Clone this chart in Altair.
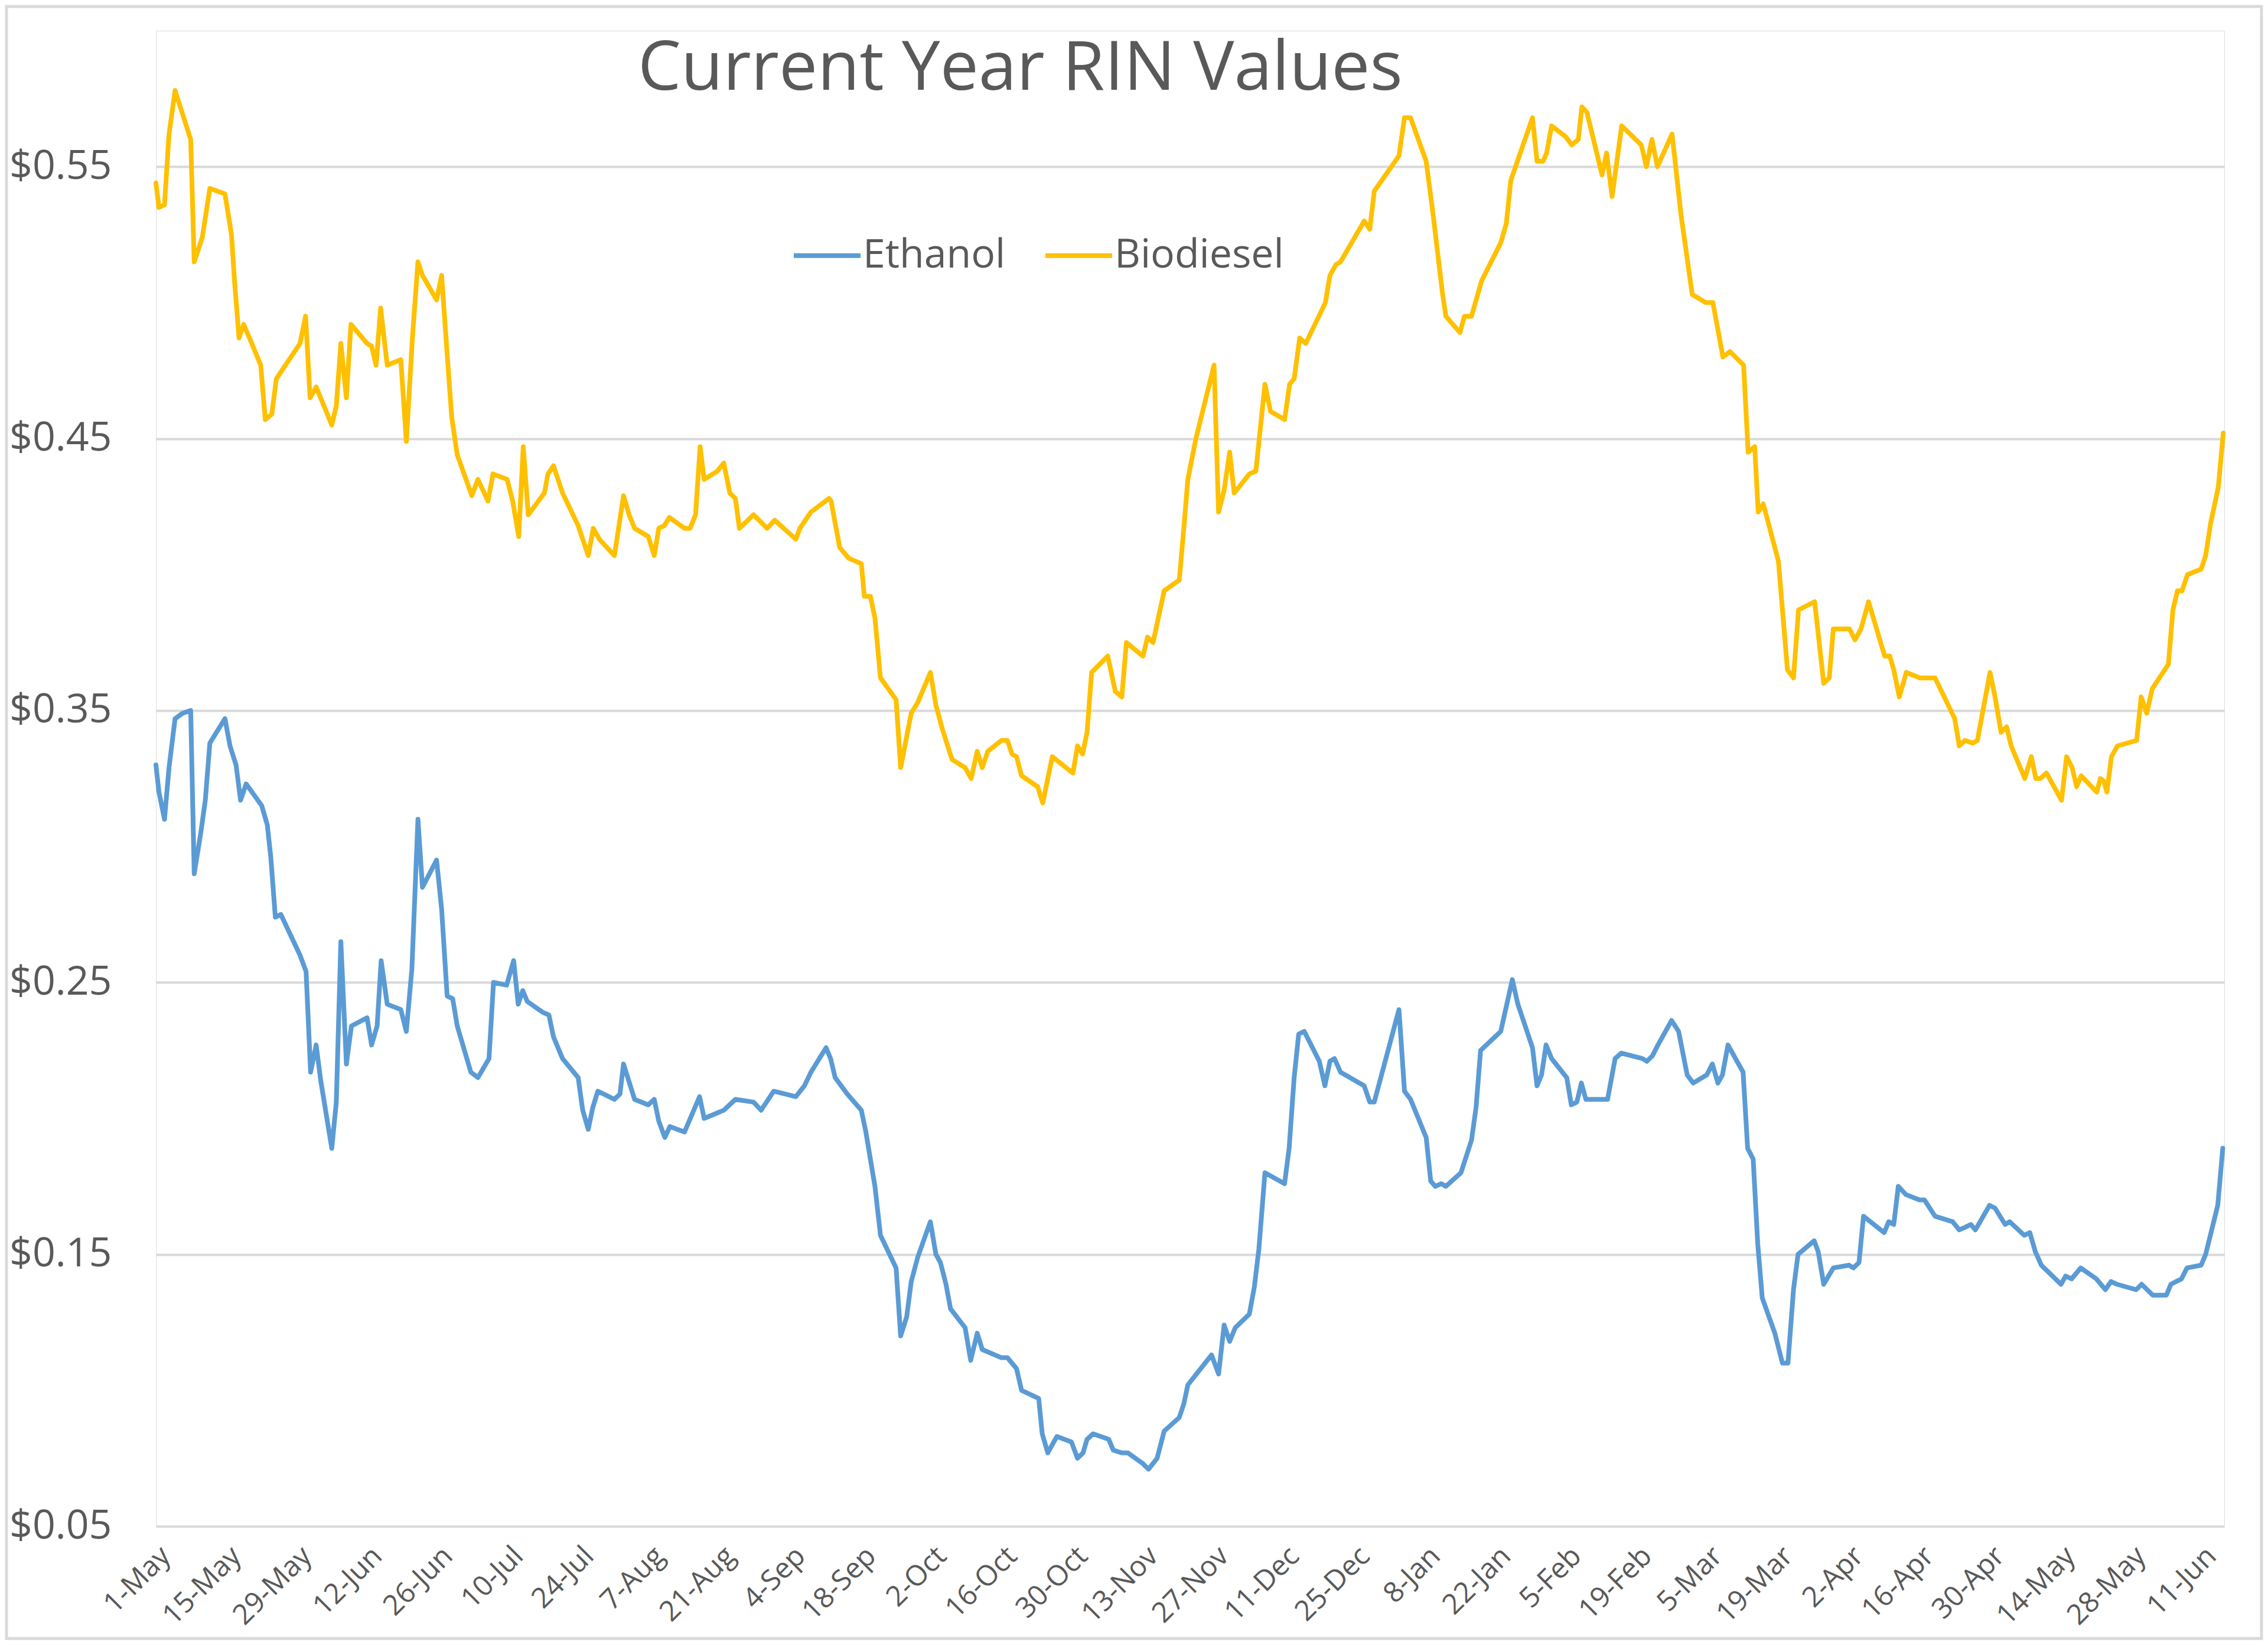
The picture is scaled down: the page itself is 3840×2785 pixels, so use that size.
import altair as alt
import pandas as pd

# ---- data (day offset from 1-May-2017, value in $) ----
START = "2017-05-01"
title_text = "Current Year RIN Values"
series_names = ["Ethanol", "Biodiesel"]
series_colors = ["#5B9BD5", "#FFC000"]

bio_day = [0.0, 0.6, 1.7, 2.6, 3.8, 6.9, 7.6, 9.2, 10.7, 13.7, 15.0, 15.6, 16.5, 17.4, 18.8,
           20.8, 21.7, 23.0, 23.9, 28.6, 29.7, 30.6, 31.8, 34.9, 35.8, 36.7, 37.8, 38.7, 41.9,
           42.8, 43.7, 44.6, 45.9, 48.6, 49.7, 50.9, 52.0, 52.9, 55.7, 56.7, 57.8, 58.7, 59.8,
           62.7, 63.9, 65.9, 66.9, 69.7, 70.8, 72.0, 72.9, 73.9, 77.1, 77.8, 78.9, 80.7, 83.8,
           85.8, 86.8, 88.0, 91.0, 92.8, 93.9, 95.0, 97.7, 98.9, 99.8, 100.9, 101.9, 104.9,
           106.0, 107.1, 108.0, 108.8, 111.4, 112.7, 113.9, 115.0, 115.8, 118.6, 121.3, 122.8,
           127.0, 127.8, 130.0, 133.6, 134.0, 135.7, 137.5, 140.0, 140.6, 141.8, 142.7, 143.8,
           146.9, 147.8, 149.9, 151.2, 153.7, 154.8, 156.1, 158.0, 160.6, 161.8, 163.0, 164.0,
           165.1, 167.8, 169.0, 169.9, 170.8, 171.8, 175.0, 176.0, 177.9, 182.0, 182.9, 183.9,
           184.8, 185.7, 188.9, 190.4, 191.7, 192.6, 195.9, 196.8, 197.9, 198.7, 200.1, 203.1,
           204.0, 204.8, 206.4, 210.0, 210.9, 212.0, 213.1, 214.0, 217.0, 218.3, 220.1, 221.2,
           224.0, 225.0, 225.9, 227.0, 228.2, 232.1, 233.0, 234.2, 235.1, 239.8, 240.9, 241.8,
           246.7, 247.8, 249.0, 252.1, 253.5, 255.3, 256.0, 258.8, 259.7, 261.1, 263.1, 266.9,
           268.0, 268.9, 273.2, 274.1, 275.3, 276.0, 277.0, 279.8, 281.0, 282.3, 283.0, 284.0,
           287.0, 287.9, 289.0, 290.9, 294.8, 295.8, 296.9, 298.0, 300.9, 302.7, 304.9, 307.6,
           309.0, 311.0, 312.4, 315.1, 316.0, 317.3, 318.0, 319.0, 322.0, 323.8, 325.0, 326.0,
           329.2, 331.0, 332.1, 332.9, 336.1, 337.2, 338.4, 339.9, 343.1, 344.1, 344.9, 346.0,
           347.4, 350.1, 353.1, 357.0, 357.9, 359.0, 360.6, 361.5, 364.0, 365.0, 366.2, 367.3,
           368.2, 370.9, 372.2, 373.1, 374.0, 375.2, 378.2, 379.2, 380.3, 381.2, 382.1, 385.2,
           385.9, 386.6, 387.2, 388.1, 389.3, 393.1, 394.0, 395.1, 396.2, 399.4, 400.3, 401.2,
           402.1, 403.2, 405.9, 406.8, 407.8, 409.3, 410.3]
bio_val = [0.544, 0.535, 0.536, 0.562, 0.578, 0.560, 0.515, 0.524, 0.542, 0.540, 0.525, 0.508,
           0.487, 0.492, 0.486, 0.477, 0.457, 0.459, 0.472, 0.485, 0.495, 0.465, 0.469, 0.455,
           0.462, 0.485, 0.465, 0.492, 0.485, 0.484, 0.477, 0.498, 0.477, 0.479, 0.449, 0.487,
           0.515, 0.510, 0.501, 0.510, 0.481, 0.458, 0.444, 0.429, 0.435, 0.427, 0.437, 0.435,
           0.427, 0.414, 0.447, 0.422, 0.430, 0.437, 0.440, 0.430, 0.418, 0.407, 0.417, 0.413,
           0.407, 0.429, 0.422, 0.417, 0.414, 0.407, 0.417, 0.418, 0.421, 0.417, 0.417, 0.422,
           0.447, 0.435, 0.438, 0.441, 0.430, 0.428, 0.417, 0.422, 0.417, 0.420, 0.413, 0.417,
           0.423, 0.428, 0.427, 0.410, 0.406, 0.404, 0.392, 0.392, 0.384, 0.362, 0.354, 0.329,
           0.349, 0.353, 0.364, 0.352, 0.343, 0.332, 0.329, 0.325, 0.335, 0.329, 0.335, 0.339,
           0.339, 0.334, 0.333, 0.326, 0.322, 0.316, 0.333, 0.327, 0.337, 0.334, 0.342, 0.364,
           0.370, 0.357, 0.355, 0.375, 0.370, 0.377, 0.375, 0.382, 0.394, 0.398, 0.417, 0.435,
           0.450, 0.477, 0.423, 0.431, 0.445, 0.430, 0.437, 0.438, 0.470, 0.460, 0.457, 0.470,
           0.472, 0.487, 0.485, 0.500, 0.510, 0.514, 0.515, 0.530, 0.527, 0.541, 0.554, 0.568,
           0.568, 0.552, 0.532, 0.504, 0.495, 0.489, 0.495, 0.495, 0.508, 0.522, 0.529, 0.545,
           0.568, 0.552, 0.552, 0.555, 0.565, 0.561, 0.558, 0.560, 0.572, 0.570, 0.547, 0.555,
           0.539, 0.565, 0.558, 0.550, 0.560, 0.550, 0.562, 0.532, 0.503, 0.500, 0.500, 0.480,
           0.482, 0.477, 0.445, 0.447, 0.423, 0.426, 0.405, 0.365, 0.362, 0.387, 0.390, 0.360,
           0.362, 0.380, 0.380, 0.376, 0.380, 0.390, 0.370, 0.370, 0.365, 0.355, 0.364, 0.362,
           0.362, 0.347, 0.337, 0.339, 0.338, 0.339, 0.364, 0.355, 0.342, 0.344, 0.337, 0.325,
           0.333, 0.325, 0.325, 0.327, 0.317, 0.333, 0.329, 0.322, 0.326, 0.320, 0.325, 0.324,
           0.320, 0.333, 0.337, 0.339, 0.355, 0.349, 0.358, 0.367, 0.387, 0.394, 0.394, 0.400,
           0.402, 0.407, 0.419, 0.432, 0.452]

eth_day = [0.0, 0.6, 1.7, 2.6, 3.8, 5.3, 6.9, 7.6, 8.9, 9.8, 10.7, 13.7, 14.7, 15.9, 16.8,
           17.9, 21.0, 22.1, 22.8, 23.7, 24.8, 28.6, 29.8, 30.7, 31.8, 32.7, 34.9, 35.8, 36.7,
           37.8, 38.8, 41.9, 42.8, 43.9, 44.7, 45.9, 48.6, 49.7, 50.8, 52.0, 52.9, 55.7, 56.7,
           57.8, 58.9, 59.8, 62.5, 63.9, 66.1, 67.0, 69.6, 71.0, 71.9, 72.8, 73.7, 76.8, 78.0,
           78.9, 80.7, 83.8, 84.7, 85.8, 86.7, 87.7, 91.0, 92.1, 92.8, 95.0, 97.7, 98.9, 99.8,
           101.0, 102.0, 104.9, 107.9, 108.8, 111.4, 112.7, 115.0, 118.6, 120.1, 122.6, 127.0,
           128.7, 130.0, 133.0, 133.9, 134.8, 137.2, 140.0, 140.9, 142.7, 143.8, 146.9, 147.8,
           149.0, 149.9, 151.2, 153.7, 154.8, 155.7, 156.8, 157.7, 160.6, 161.7, 163.0, 164.0,
           167.8, 169.0, 170.8, 171.8, 175.2, 175.9, 177.0, 178.8, 181.7, 182.9, 184.0, 184.8,
           186.0, 189.1, 190.0, 191.7, 192.9, 195.9, 197.0, 198.7, 200.1, 203.1, 204.0, 204.8,
           209.5, 210.9, 212.0, 213.1, 214.2, 217.0, 218.0, 218.9, 220.1, 224.0, 224.9, 225.9,
           226.8, 227.9, 230.9, 232.0, 233.0, 233.9, 235.1, 239.8, 240.9, 241.8, 246.7, 247.8,
           249.0, 252.1, 253.0, 253.9, 255.1, 256.0, 259.0, 261.1, 262.0, 262.9, 266.9, 269.2,
           270.3, 273.2, 274.1, 275.0, 275.9, 277.0, 280.0, 280.9, 282.0, 282.9, 283.8, 288.1,
           289.6, 290.8, 295.0, 295.9, 297.0, 298.1, 300.8, 302.2, 303.9, 305.1, 307.8, 308.9,
           310.0, 310.9, 312.0, 315.0, 315.9, 317.0, 317.9, 318.8, 321.3, 322.8, 323.9, 325.0,
           325.9, 329.1, 329.9, 331.0, 332.9, 336.0, 336.9, 338.0, 338.9, 343.0, 343.9, 344.9,
           345.8, 347.3, 350.0, 351.0, 353.1, 356.6, 357.9, 359.1, 360.2, 361.1, 363.9, 365.0,
           367.0, 367.9, 370.8, 371.9, 373.0, 374.2, 378.1, 379.0, 380.2, 382.0, 385.1, 386.0,
           386.9, 388.0, 389.2, 393.0, 394.1, 395.2, 396.3, 399.0, 399.9, 402.0, 403.1, 405.9,
           406.8, 408.0, 409.2, 410.2]
eth_val = [0.330, 0.320, 0.310, 0.329, 0.347, 0.349, 0.350, 0.290, 0.305, 0.317, 0.338, 0.347,
           0.337, 0.330, 0.317, 0.323, 0.315, 0.308, 0.296, 0.274, 0.275, 0.260, 0.254, 0.217,
           0.227, 0.214, 0.189, 0.206, 0.265, 0.220, 0.234, 0.237, 0.227, 0.234, 0.258, 0.242,
           0.240, 0.232, 0.255, 0.310, 0.285, 0.295, 0.277, 0.245, 0.244, 0.234, 0.217, 0.215,
           0.222, 0.250, 0.249, 0.258, 0.242, 0.247, 0.243, 0.239, 0.238, 0.230, 0.222, 0.215,
           0.203, 0.196, 0.204, 0.210, 0.207, 0.209, 0.220, 0.207, 0.205, 0.207, 0.199, 0.193,
           0.197, 0.195, 0.208, 0.200, 0.202, 0.203, 0.207, 0.206, 0.203, 0.210, 0.208, 0.212,
           0.217, 0.226, 0.222, 0.215, 0.209, 0.203, 0.195, 0.175, 0.157, 0.145, 0.120, 0.127,
           0.140, 0.149, 0.162, 0.150, 0.147, 0.139, 0.130, 0.123, 0.111, 0.121, 0.115, 0.112,
           0.112, 0.108, 0.100, 0.097, 0.084, 0.077, 0.083, 0.081, 0.075, 0.077, 0.082, 0.084,
           0.082, 0.078, 0.077, 0.077, 0.073, 0.071, 0.075, 0.085, 0.090, 0.095, 0.102, 0.113,
           0.106, 0.124, 0.118, 0.123, 0.128, 0.138, 0.152, 0.180, 0.176, 0.189, 0.215, 0.231,
           0.232, 0.221, 0.212, 0.221, 0.222, 0.217, 0.212, 0.206, 0.206, 0.240, 0.210, 0.207,
           0.193, 0.177, 0.175, 0.176, 0.175, 0.180, 0.192, 0.204, 0.225, 0.232, 0.251, 0.242,
           0.226, 0.212, 0.216, 0.227, 0.222, 0.215, 0.205, 0.206, 0.213, 0.207, 0.207, 0.222,
           0.224, 0.222, 0.221, 0.223, 0.227, 0.236, 0.232, 0.216, 0.213, 0.216, 0.220, 0.213,
           0.216, 0.227, 0.217, 0.189, 0.185, 0.154, 0.134, 0.121, 0.110, 0.110, 0.137, 0.150,
           0.155, 0.151, 0.139, 0.145, 0.146, 0.145, 0.147, 0.164, 0.158, 0.162, 0.161, 0.175,
           0.172, 0.170, 0.170, 0.164, 0.162, 0.159, 0.160, 0.161, 0.159, 0.168, 0.167, 0.161,
           0.162, 0.157, 0.158, 0.151, 0.146, 0.139, 0.142, 0.141, 0.145, 0.141, 0.139, 0.137,
           0.140, 0.139, 0.137, 0.139, 0.137, 0.135, 0.135, 0.139, 0.141, 0.145, 0.146, 0.150,
           0.159, 0.168, 0.189]

y_ticks = [0.05, 0.15, 0.25, 0.35, 0.45, 0.55]
x_tick_days = list(range(0, 407, 14))   # 1-May ... 11-Jun, every 14 days
x_domain_days = [0.0, 410.5]
y_domain = [0.05, 0.60]

# ---- build table ----
start_ms = int(pd.Timestamp(START, tz="UTC").value // 10**6)
DAY = 86400000

rows = []
for d, v in zip(eth_day, eth_val):
    rows.append({"t": start_ms + int(d * DAY), "value": v, "series": "Ethanol"})
for d, v in zip(bio_day, bio_val):
    rows.append({"t": start_ms + int(d * DAY), "value": v, "series": "Biodiesel"})
df = pd.DataFrame(rows)

tick_ms = [start_ms + d * DAY for d in x_tick_days]
dom_ms = [start_ms + int(d * DAY) for d in x_domain_days]

FONT = "Open Sans"
TXT = "#595959"
GRID = "#D9D9D9"

W, H = 3502, 2532
PAD = {"left": 256, "top": 44, "right": 66, "bottom": 193}

lines = alt.Chart(df).mark_line(strokeWidth=8, strokeJoin="round", strokeCap="round").encode(
    x=alt.X("t:T",
            scale=alt.Scale(type="utc", domain=dom_ms),
            axis=alt.Axis(values=tick_ms, labelExpr="utcFormat(datum.value, '%-d-%b')",
                          labelAngle=315, labelAlign="right", labelBaseline="top",
                          labelFontSize=48, labelFont=FONT, labelColor=TXT,
                          labelPadding=26, grid=False, ticks=False, domain=False,
                          title=None, labelOverlap=False, labelBound=False, labelFlush=False)),
    y=alt.Y("value:Q",
            scale=alt.Scale(domain=y_domain, nice=False, zero=False),
            axis=alt.Axis(values=y_ticks, format="$.2f", labelFontSize=68, labelFont=FONT,
                          labelColor=TXT, labelPadding=75, grid=True, gridColor=GRID,
                          gridWidth=4, ticks=False, domain=False, title=None)),
    color=alt.Color("series:N",
                    scale=alt.Scale(domain=series_names, range=series_colors),
                    legend=alt.Legend(orient="none", legendX=1076, legendY=320,
                                      direction="horizontal", title=None,
                                      symbolType="stroke", symbolSize=12769,
                                      symbolStrokeWidth=8, labelFontSize=68,
                                      labelFont=FONT, labelColor=TXT, labelLimit=1000,
                                      columnPadding=51, labelOffset=0)),
    order=alt.Order("t:T"),
)

frame = alt.Chart(pd.DataFrame({"k": [0]})).mark_rect(
    fill="white", fillOpacity=0, stroke=GRID, strokeWidth=5
).encode(
    x=alt.value(-PAD["left"] + 3), x2=alt.value(W + PAD["right"] - 3),
    y=alt.value(-PAD["top"] + 3), y2=alt.value(H + PAD["bottom"] - 3),
)

title = alt.Chart(pd.DataFrame({"label": [title_text]})).mark_text(
    align="left", baseline="alphabetic", fontSize=116, font=FONT, color=TXT
).encode(
    text="label:N", x=alt.value(816), y=alt.value(100),
)

chart = alt.layer(frame, lines, title).properties(
    width=W, height=H,
    autosize=alt.AutoSizeParams(type="none"),
    padding=PAD,
).configure_view(stroke=None).configure(background="white")

chart.save("out.html", embed_options={"renderer": "svg", "actions": False})
